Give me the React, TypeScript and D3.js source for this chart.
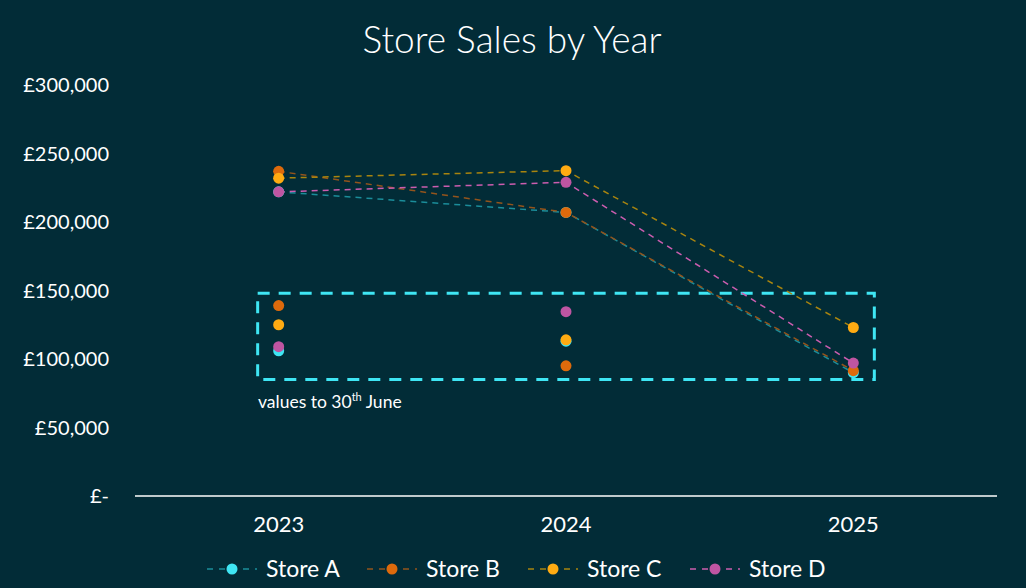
import React from 'react';
import * as d3 from 'd3';

const years = ['2023', '2024', '2025'];
const stores = ['Store A', 'Store B', 'Store C', 'Store D'];
const colors = ['#3fe6f4', '#dd6a0c', '#ffab12', '#bf55a2'];
const lineColors = ['#1b8d9a', '#93541c', '#a8840f', '#cc5daf'];

// full-year values for 2023 and 2024, year-to-date for 2025 (joined by dashed lines)
const storeA = [222000, 207000, 90000];
const storeB = [237000, 207000, 91500];
const storeC = [232000, 237500, 123000];
const storeD = [222000, 229000, 97000];
// values to 30th June for 2023 and 2024 (points only)
const storeAJune = [106000, 113000];
const storeBJune = [139000, 95000];
const storeCJune = [125000, 114000];
const storeDJune = [109000, 134500];

const yTicks = [0, 50000, 100000, 150000, 200000, 250000, 300000];
const boxRange = [85000, 148000];

const lineSeries = [storeA, storeB, storeC, storeD];
const juneSeries = [storeAJune, storeBJune, storeCJune, storeDJune];

const width = 1026;
const height = 588;
const font = 'Lato, "Open Sans", sans-serif';

const App: React.FC = () => {
  const x = d3.scaleBand().domain(years).range([135, 997]);
  const y = d3.scaleLinear().domain([0, 300000]).range([496, 85]);
  const cx = (yr: string) => (x(yr) as number) + x.bandwidth() / 2;

  const line = d3.line<number>()
    .x((_, i) => cx(years[i]))
    .y((d) => y(d));

  const fmt = (v: number) => (v === 0 ? '£-' : '£' + d3.format(',')(v));

  const boxX0 = cx('2023') - 21;
  const boxX1 = cx('2025') + 21;

  const legendX = [207, 367, 528, 690];

  return (
    <svg
      width={width}
      height={height}
      style={{ position: 'absolute', left: 0, top: 0, background: '#022c37' }}
      fontFamily={font}
    >
      <rect width={width} height={height} fill="#022c37" />
      <text x={512} y={53} textAnchor="middle" fill="#ffffff" fontSize={37} fontWeight={300}>
        Store Sales by Year
      </text>

      {yTicks.map((t) => (
        <text key={t} x={109} y={y(t)} dy="0.35em" textAnchor="end" fill="#ffffff" fontSize={20}>
          {fmt(t)}
        </text>
      ))}

      <line x1={135} x2={997} y1={y(0)} y2={y(0)} stroke="#ffffff" strokeWidth={1.5} />
      {years.map((yr) => (
        <text key={yr} x={cx(yr)} y={532} textAnchor="middle" fill="#ffffff" fontSize={22}>
          {yr}
        </text>
      ))}

      {/* dashed box around half-year values */}
      <rect
        x={boxX0}
        y={y(boxRange[1])}
        width={boxX1 - boxX0}
        height={y(boxRange[0]) - y(boxRange[1])}
        fill="none"
        stroke="#3fe6f4"
        strokeWidth={3}
        strokeDasharray="12 9"
      />
      <text x={258} y={408} fill="#ffffff" fontSize={17.5}>
        values to 30
        <tspan fontSize={11} dy={-7}>th</tspan>
        <tspan dy={7}> June</tspan>
      </text>

      {lineSeries.map((s, i) => (
        <path
          key={'l' + i}
          d={line(s) as string}
          fill="none"
          stroke={lineColors[i]}
          strokeWidth={1.5}
          strokeDasharray="6 5"
        />
      ))}
      {lineSeries.map((s, i) =>
        s.map((v, j) => (
          <circle key={'p' + i + j} cx={cx(years[j])} cy={y(v)} r={5.5} fill={colors[i]} />
        ))
      )}
      {juneSeries.map((s, i) =>
        s.map((v, j) => (
          <circle key={'j' + i + j} cx={cx(years[j])} cy={y(v)} r={5.5} fill={colors[i]} />
        ))
      )}

      {stores.map((name, i) => (
        <g key={name} transform={`translate(${legendX[i]},569)`}>
          <line x1={0} x2={50} y1={0} y2={0} stroke={lineColors[i]} strokeWidth={1.5} strokeDasharray="6 6" />
          <circle cx={25} cy={0} r={5.5} fill={colors[i]} />
          <text x={59} y={0} dy="0.35em" fill="#ffffff" fontSize={23}>
            {name}
          </text>
        </g>
      ))}
    </svg>
  );
};

export default App;
